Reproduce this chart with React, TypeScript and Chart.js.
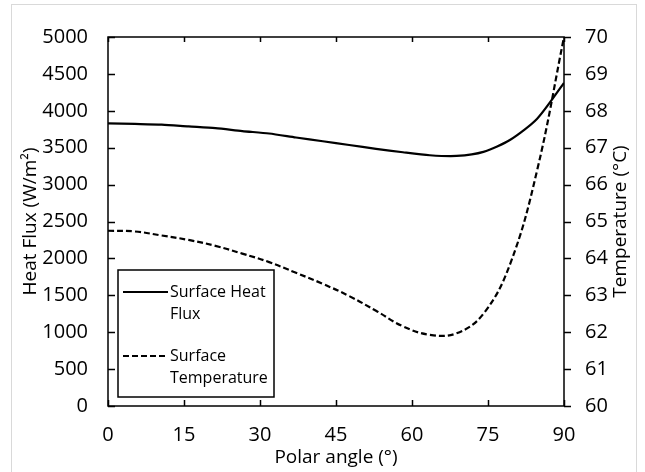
import React, { useEffect, useRef } from 'react';
import { Chart, registerables } from 'chart.js';

Chart.register(...registerables);

const angles = [0, 5.3, 10.6, 15.9, 21.2, 26.5, 31.8, 37.1, 42.4, 47.6, 52.9, 58.2, 63.5, 68.8, 74.1, 79.4, 84.7, 90];
const heatFlux = [3830, 3822, 3812, 3788, 3765, 3725, 3692, 3638, 3587, 3537, 3485, 3438, 3398, 3388, 3443, 3608, 3893, 4378];
const temperature = [64.75, 64.73, 64.62, 64.5, 64.34, 64.13, 63.9, 63.61, 63.31, 62.98, 62.58, 62.16, 61.93, 61.97, 62.5, 63.86, 66.39, 70.0];

const seriesNames = ['Surface Heat Flux', 'Surface Temperature'];
const legendLines = [['Surface Heat', 'Flux'], ['Surface', 'Temperature']];
const xTitle = 'Polar angle (°)';
const yTitle = 'Heat Flux (W/m²)';
const y2Title = 'Temperature (°C)';

const FONT = '"Open Sans", sans-serif';

const framePlugin = {
  id: 'frame',
  beforeDraw(chart: any) {
    const { ctx, width, height } = chart;
    ctx.save();
    ctx.fillStyle = '#fff';
    ctx.fillRect(0, 0, width, height);
    ctx.strokeStyle = '#d9d9d9';
    ctx.lineWidth = 1;
    ctx.strokeRect(11.5, 4.5, 625, height + 10);
    ctx.restore();
  },
  afterDatasetsDraw(chart: any) {
    const { ctx, chartArea, scales } = chart;
    const { left, right, top, bottom } = chartArea;
    ctx.save();
    ctx.strokeStyle = '#000';
    ctx.lineWidth = 1.5;
    ctx.strokeRect(left, top, right - left, bottom - top);
    ctx.beginPath();
    scales.x.ticks.forEach((t: any) => {
      const px = Math.round(scales.x.getPixelForValue(t.value)) + 0.5;
      ctx.moveTo(px, bottom);
      ctx.lineTo(px, bottom - 6);
      ctx.moveTo(px, top);
      ctx.lineTo(px, top + 5);
    });
    scales.y.ticks.forEach((t: any) => {
      const py = Math.round(scales.y.getPixelForValue(t.value)) + 0.5;
      ctx.moveTo(left, py);
      ctx.lineTo(left + 7, py);
    });
    scales.y2.ticks.forEach((t: any) => {
      const py = Math.round(scales.y2.getPixelForValue(t.value)) + 0.5;
      ctx.moveTo(right, py);
      ctx.lineTo(right + 7, py);
    });
    ctx.stroke();

    // axis titles
    ctx.fillStyle = '#000';
    ctx.font = `19px ${FONT}`;
    ctx.textAlign = 'center';
    ctx.textBaseline = 'middle';
    ctx.fillText(xTitle, (left + right) / 2, 458);
    const cy = (top + bottom) / 2;
    ctx.save();
    ctx.translate(31, cy);
    ctx.rotate(-Math.PI / 2);
    ctx.fillText(yTitle, 0, 0);
    ctx.restore();
    ctx.save();
    ctx.translate(621, cy);
    ctx.rotate(-Math.PI / 2);
    ctx.fillText(y2Title, 0, 0);
    ctx.restore();

    // legend
    const lx = 118, ly = 270, lw = 156, lh = 127;
    ctx.fillStyle = '#fff';
    ctx.fillRect(lx, ly, lw, lh);
    ctx.strokeStyle = '#000';
    ctx.lineWidth = 1.5;
    ctx.strokeRect(lx, ly, lw, lh);
    const rows = [292, 356];
    chart.data.datasets.forEach((ds: any, i: number) => {
      ctx.beginPath();
      ctx.lineWidth = 2.2;
      ctx.setLineDash(ds.borderDash || []);
      ctx.moveTo(123, rows[i]);
      ctx.lineTo(168, rows[i]);
      ctx.stroke();
      ctx.setLineDash([]);
      ctx.fillStyle = '#000';
      ctx.font = `16px ${FONT}`;
      ctx.textAlign = 'left';
      ctx.textBaseline = 'middle';
      legendLines[i].forEach((line, j) => {
        ctx.fillText(line, 170, rows[i] + j * 22);
      });
    });
    ctx.restore();
  },
};

export default function App() {
  const ref = useRef<HTMLCanvasElement>(null);
  useEffect(() => {
    if (!ref.current) return;
    const tickFont = { family: FONT, size: 20 };
    const plain = (v: any) => String(v);
    const chart = new Chart(ref.current, {
      type: 'line',
      data: {
        datasets: [
          {
            label: seriesNames[0],
            data: angles.map((a, i) => ({ x: a, y: heatFlux[i] })),
            borderColor: '#000',
            borderWidth: 2.2,
            pointRadius: 0,
            tension: 0.25,
            yAxisID: 'y',
          },
          {
            label: seriesNames[1],
            data: angles.map((a, i) => ({ x: a, y: temperature[i] })),
            borderColor: '#000',
            borderWidth: 2.2,
            borderDash: [6, 3],
            pointRadius: 0,
            tension: 0.4,
            yAxisID: 'y2',
          },
        ],
      },
      options: {
        responsive: false,
        animation: false,
        layout: { padding: { top: 37, left: 0, right: 0, bottom: 0 } },
        plugins: { legend: { display: false }, tooltip: { enabled: false } },
        scales: {
          x: {
            type: 'linear',
            position: 'bottom',
            min: 0,
            max: 90,
            ticks: { stepSize: 15, font: tickFont, color: '#000', padding: 17, maxRotation: 0, callback: plain },
            grid: { display: true, drawOnChartArea: false, drawTicks: false },
            border: { display: false },
            afterFit: (s: any) => { s.height = 66; },
          },
          y: {
            type: 'linear',
            position: 'left',
            min: 0,
            max: 5000,
            ticks: { stepSize: 500, font: tickFont, color: '#000', padding: 20, callback: plain },
            grid: { display: true, drawOnChartArea: false, drawTicks: false },
            border: { display: false },
            afterFit: (s: any) => { s.width = 108; },
          },
          y2: {
            type: 'linear',
            position: 'right',
            min: 60,
            max: 70,
            ticks: { stepSize: 1, font: tickFont, color: '#000', padding: 21, callback: plain },
            grid: { display: true, drawOnChartArea: false, drawTicks: false },
            border: { display: false },
            afterFit: (s: any) => { s.width = 81; },
          },
        },
      },
      plugins: [framePlugin],
    });
    return () => chart.destroy();
  }, []);
  return (
    <div style={{ position: 'absolute', left: 0, top: 0, width: 645, height: 472 }}>
      <canvas ref={ref} width={645} height={472} />
    </div>
  );
}
